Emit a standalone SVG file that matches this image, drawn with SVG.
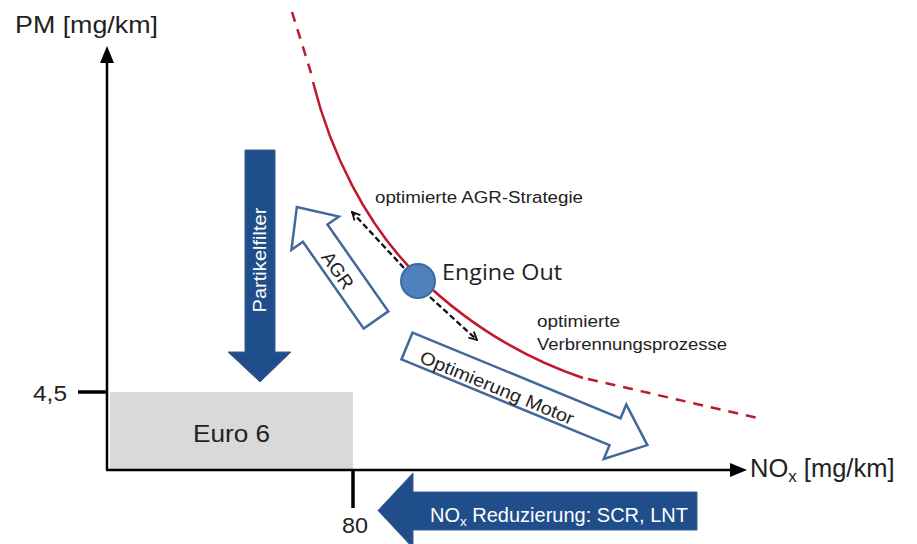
<svg xmlns="http://www.w3.org/2000/svg" width="917" height="544" viewBox="0 0 917 544">
<defs>
<style>
.t{font-family:"Liberation Sans",Arial,sans-serif;fill:#222}
.w{font-family:"Liberation Sans",Arial,sans-serif;fill:#fff}
.ax{stroke:#000;stroke-width:2.5;fill:none}
.tick{stroke:#000;stroke-width:3.5;fill:none}
.red{stroke:#c0182d;stroke-width:2.5;fill:none}
.reddash{stroke:#c0182d;stroke-width:2.5;fill:none;stroke-dasharray:10 8}
.blk{stroke:#111;stroke-width:2.3;fill:none;stroke-dasharray:6 3}
.solidblue{fill:#1f4e8a;stroke:#3a5f8f;stroke-width:1}
.hollow{fill:#fff;stroke:#41689a;stroke-width:2.5;stroke-linejoin:miter}
</style>
<marker id="chev" viewBox="0 0 10 10" refX="9" refY="5" markerWidth="10" markerHeight="10" markerUnits="userSpaceOnUse" orient="auto">
<path d="M1,1 L9,5 L1,9" fill="none" stroke="#111" stroke-width="1.8"/>
</marker>
</defs>
<rect width="917" height="544" fill="#fff"/>

<g id="euro6">
<rect x="110" y="392" width="243" height="77" fill="#d9d9d9"/>
<text class="t" x="231.5" y="442" font-size="24" text-anchor="middle" textLength="77" lengthAdjust="spacingAndGlyphs">Euro 6</text>
</g>

<g id="axes">
<line class="ax" x1="107" y1="60" x2="107" y2="470"/>
<polygon points="107,46 100,63 114,63" fill="#000"/>
<line class="ax" x1="106" y1="470" x2="732" y2="470"/>
<polygon points="747,470 730,463 730,477" fill="#000"/>
<line class="tick" x1="78" y1="392" x2="107" y2="392"/>
<line class="tick" x1="353" y1="470" x2="353" y2="508"/>
<text class="t" x="15" y="33" font-size="24" textLength="143" lengthAdjust="spacingAndGlyphs">PM [mg/km]</text>
<text class="t" x="750" y="477" font-size="25.5">NO<tspan font-size="17" dy="5">x</tspan><tspan dy="-5"> [mg/km]</tspan></text>
<text class="t" x="33" y="401" font-size="22" textLength="34" lengthAdjust="spacingAndGlyphs">4,5</text>
<text class="t" x="342" y="533" font-size="22" textLength="26" lengthAdjust="spacingAndGlyphs">80</text>
</g>

<g id="curve">
<path class="reddash" d="M292,12 L312,76"/>
<path class="red" d="M313,82 C330,150 365,225 420,278 S530,360 583,378"/>
<path class="reddash" d="M588,379 L762,419"/>
</g>

<g id="partikelfilter">
<polygon class="solidblue" points="245,150 275,150 275,352 291,352 260,382 228,352 245,352"/>
<text class="w" transform="translate(266,260) rotate(-90)" font-size="17.5" text-anchor="middle" textLength="105" lengthAdjust="spacingAndGlyphs">Partikelfilter</text>
</g>

<g id="agr">
<polygon class="hollow" transform="translate(376,320) rotate(-125)" points="0,-15 106,-15 106,-29 138,0 106,29 106,15 0,15"/>
<text class="t" transform="translate(338,270) rotate(55)" font-size="19" text-anchor="middle" dy="7">AGR</text>
</g>

<g id="optimierung-motor">
<polygon class="hollow" transform="translate(407,346) rotate(22.4)" points="0,-14.5 225,-14.5 225,-29.5 260,0 225,29.5 225,14.5 0,14.5"/>
<text class="t" transform="translate(497,388) rotate(22.4)" font-size="18" text-anchor="middle" dy="6" textLength="165" lengthAdjust="spacingAndGlyphs">Optimierung Motor</text>
</g>

<g id="nox-reduzierung">
<polygon class="solidblue" points="697,492 413,492 413,473 378,510.5 413,548 413,530 697,530"/>
<text class="w" x="430" y="522" font-size="20">NO<tspan font-size="13.5" dy="4">x</tspan><tspan dy="-4"> Reduzierung: SCR, LNT</tspan></text>
</g>

<g id="connectors">
<line class="blk" x1="404" y1="268" x2="352" y2="212" marker-end="url(#chev)"/>
<line class="blk" x1="430" y1="297" x2="477" y2="340" marker-end="url(#chev)"/>
</g>

<g id="engine-out">
<circle cx="418" cy="281" r="17" fill="#4f81bd" stroke="#3b6ba5" stroke-width="2"/>
<text x="442" y="280" font-family="'Open Sans','Noto Sans',sans-serif" font-size="21" fill="#222" textLength="120" lengthAdjust="spacingAndGlyphs">Engine Out</text>
</g>

<g id="labels">
<text class="t" x="375" y="203" font-size="16" textLength="208" lengthAdjust="spacingAndGlyphs" fill="#333">optimierte AGR-Strategie</text>
<text class="t" x="537" y="327" font-size="16" textLength="83" lengthAdjust="spacingAndGlyphs">optimierte</text>
<text class="t" x="537" y="350" font-size="16" textLength="190" lengthAdjust="spacingAndGlyphs">Verbrennungsprozesse</text>
</g>
</svg>
